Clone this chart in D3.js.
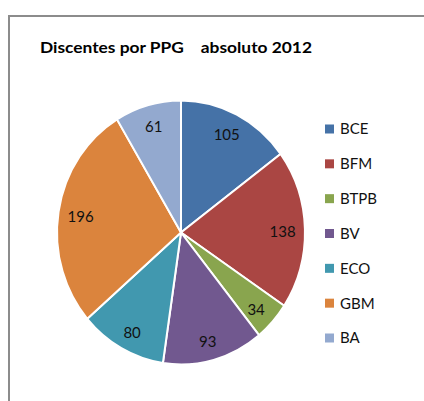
<!DOCTYPE html>
<html>
<head>
<meta charset="utf-8">
<script src="https://cdn.jsdelivr.net/npm/d3@7"></script>
<style>
  body { margin: 0; background: #fff; }
  svg { display: block; }
  text { font-family: Lato, "Open Sans", sans-serif; }
</style>
</head>
<body>
<div id="chart"></div>
<script>
// data
const categories = ["BCE", "BFM", "BTPB", "BV", "ECO", "GBM", "BA"];
const values = [105, 138, 34, 93, 80, 196, 61];
const colors = ["#4572A7", "#AA4643", "#89A54E", "#71588F", "#4198AF", "#DB843D", "#93A9CF"];
const title = "Discentes por PPG    absoluto 2012";

const width = 424, height = 401;
const cx = 181, cy = 232.5, rx = 124, ry = 132;

const svg = d3.select("#chart").append("svg")
    .attr("width", width)
    .attr("height", height);

// chart frame (runs off right & bottom)
svg.append("path")
    .attr("d", "M9,401 L9,16 L424,16")
    .attr("fill", "none")
    .attr("stroke", "#8c8c8c")
    .attr("stroke-width", 2);

svg.append("text")
    .attr("x", 40)
    .attr("y", 53)
    .attr("font-size", 15)
    .attr("font-weight", "bold")
    .attr("fill", "#000")
    .attr("textLength", 272)
    .attr("lengthAdjust", "spacingAndGlyphs")
    .style("white-space", "pre")
    .text(title);

const pie = d3.pie().sort(null).value(d => d);
const arcs = pie(values);
const arc = d3.arc().innerRadius(0).outerRadius(1);

// pie is a bit taller than wide in the picture
const g = svg.append("g")
    .attr("transform", "translate(" + cx + "," + cy + ")");

g.selectAll("path.slice")
    .data(arcs)
    .enter().append("path")
    .attr("class", "slice")
    .attr("transform", "scale(" + rx + "," + ry + ")")
    .attr("d", arc)
    .attr("fill", (d, i) => colors[i])
    .attr("stroke", "#fff")
    .attr("stroke-width", 2)
    .attr("vector-effect", "non-scaling-stroke");

const kx = 0.82, ky = 0.845;
g.selectAll("text.lbl")
    .data(arcs)
    .enter().append("text")
    .attr("class", "lbl")
    .attr("x", d => Math.sin((d.startAngle + d.endAngle) / 2) * rx * kx)
    .attr("y", d => 2 - Math.cos((d.startAngle + d.endAngle) / 2) * ry * ky)
    .attr("dy", "0.35em")
    .attr("text-anchor", "middle")
    .attr("font-size", 15)
    .attr("fill", "#111")
    .text(d => d.data);

// legend
const legend = svg.append("g");
const rowY = d3.scalePoint().domain(categories).range([129, 338]);

const item = legend.selectAll("g.item")
    .data(categories)
    .enter().append("g")
    .attr("class", "item")
    .attr("transform", d => "translate(325," + rowY(d) + ")");

item.append("rect")
    .attr("x", 0)
    .attr("y", -4.5)
    .attr("width", 9)
    .attr("height", 9)
    .attr("fill", (d, i) => colors[i]);

item.append("text")
    .attr("x", 15)
    .attr("dy", "0.36em")
    .attr("font-size", 15)
    .attr("fill", "#111")
    .text(d => d);
</script>
</body>
</html>
